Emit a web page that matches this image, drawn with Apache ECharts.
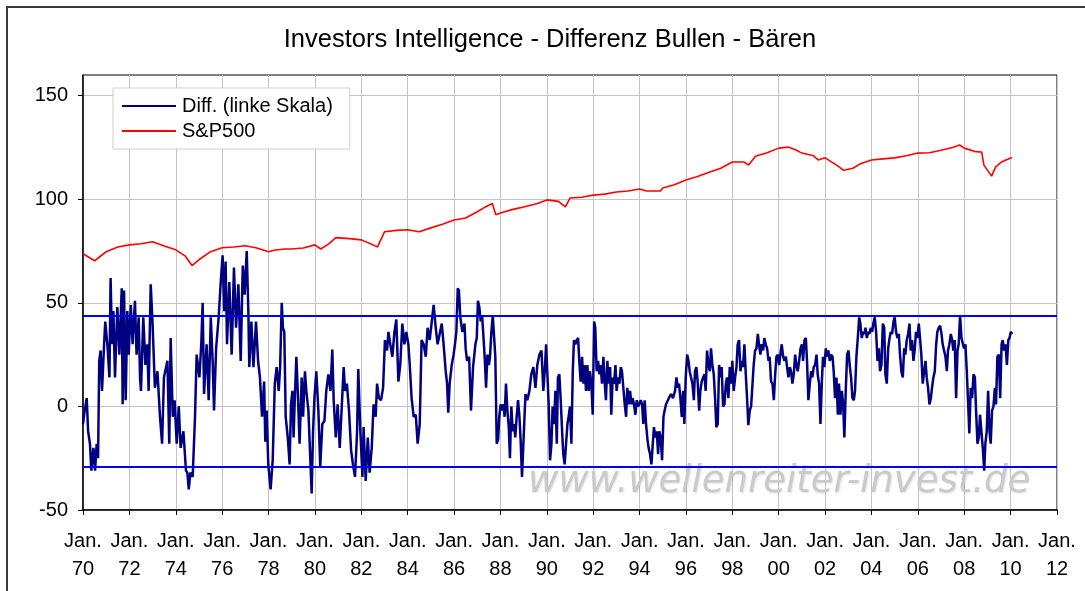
<!DOCTYPE html>
<html>
<head>
<meta charset="utf-8">
<script src="https://cdn.jsdelivr.net/npm/echarts@6/dist/echarts.min.js"></script>
<style>
html,body{margin:0;padding:0;background:#fff;}
#chart{width:1085px;height:591px;}
</style>
</head>
<body>
<div id="chart"></div>
<script>
// ---- data ----
const titleText = 'Investors Intelligence - Differenz Bullen - Bären';
const seriesNames = ['Diff. (linke Skala)', 'S&P500'];
const yTicks = [-50, 0, 50, 100, 150];
const xTickYears = [1970,1972,1974,1976,1978,1980,1982,1984,1986,1988,1990,1992,1994,1996,1998,2000,2002,2004,2006,2008,2010,2012];
const upperBand = 44;
const lowerBand = -29;
const watermarkText = 'www.wellenreiter-invest.de';

// Diff. Bullen - Bären (decimal years, values)
const diffYears = [
1970.00,1970.07,1970.16,1970.22,1970.30,1970.36,1970.45,1970.52,1970.59,1970.65,1970.70,1970.76,1970.82,1970.91,1970.96,
1971.05,1971.14,1971.19,1971.25,1971.31,1971.38,1971.48,1971.57,1971.67,1971.71,1971.77,1971.84,1971.91,1971.97,
1972.06,1972.14,1972.24,1972.31,1972.40,1972.46,1972.50,1972.60,1972.69,1972.77,1972.83,1972.92,
1973.00,1973.10,1973.21,1973.32,1973.41,1973.49,1973.64,1973.72,1973.78,1973.87,1973.95,
1974.04,1974.13,1974.21,1974.33,1974.44,1974.50,1974.56,1974.63,1974.73,1974.83,1974.90,
1975.02,1975.10,1975.16,1975.22,1975.33,1975.42,1975.51,1975.59,1975.65,1975.74,1975.85,1975.94,
1976.02,1976.09,1976.15,1976.21,1976.31,1976.41,1976.51,1976.60,1976.70,1976.80,1976.89,1976.97,
1977.06,1977.13,1977.17,1977.26,1977.35,1977.46,1977.55,1977.63,1977.72,1977.81,1977.86,1977.92,1977.99,
1978.09,1978.18,1978.27,1978.35,1978.44,1978.50,1978.57,1978.62,1978.68,1978.74,1978.83,1978.91,1978.97,
1979.03,1979.08,1979.14,1979.20,1979.26,1979.34,1979.43,1979.49,1979.57,1979.63,1979.72,1979.80,1979.86,1979.92,1979.98,
1980.06,1980.15,1980.23,1980.32,1980.41,1980.49,1980.58,1980.67,1980.75,1980.81,1980.90,1980.98,
1981.07,1981.15,1981.24,1981.30,1981.38,1981.47,1981.56,1981.64,1981.73,1981.82,1981.87,1981.96,
1982.05,1982.10,1982.19,1982.28,1982.36,1982.45,1982.53,1982.62,1982.68,1982.76,1982.85,1982.94,
1983.02,1983.11,1983.17,1983.25,1983.34,1983.43,1983.51,1983.60,1983.68,1983.77,1983.86,1983.94,
1984.03,1984.09,1984.17,1984.26,1984.35,1984.43,1984.52,1984.60,1984.69,1984.78,1984.86,1984.95,
1985.04,1985.12,1985.21,1985.29,1985.38,1985.47,1985.55,1985.64,1985.70,1985.75,1985.81,1985.90,1985.98,
1986.04,1986.10,1986.16,1986.21,1986.27,1986.36,1986.45,1986.50,1986.56,1986.65,1986.73,1986.82,1986.92,1986.98,
1987.03,1987.09,1987.15,1987.21,1987.26,1987.32,1987.38,1987.44,1987.50,1987.55,1987.61,1987.67,1987.73,1987.78,1987.84,1987.90,1987.95,
1988.01,1988.07,1988.13,1988.18,1988.24,1988.30,1988.36,1988.41,1988.47,1988.53,1988.59,1988.64,1988.70,1988.76,1988.82,1988.87,1988.93,1988.99,
1989.08,1989.16,1989.25,1989.33,1989.42,1989.51,1989.59,1989.68,1989.77,1989.85,1989.91,1989.97,
1990.02,1990.08,1990.14,1990.20,1990.25,1990.31,1990.37,1990.43,1990.48,1990.54,1990.60,1990.66,1990.71,1990.77,1990.83,1990.89,1990.94,
1991.00,1991.06,1991.12,1991.17,1991.23,1991.29,1991.35,1991.40,1991.46,1991.52,1991.58,1991.63,1991.69,1991.75,1991.81,1991.86,1991.92,1991.98,
1992.04,1992.09,1992.15,1992.21,1992.27,1992.32,1992.38,1992.44,1992.50,1992.55,1992.61,1992.67,1992.73,1992.78,1992.84,1992.90,1992.96,
1993.01,1993.07,1993.13,1993.19,1993.24,1993.30,1993.36,1993.42,1993.47,1993.53,1993.59,1993.65,1993.70,1993.76,1993.82,1993.88,1993.93,1993.99,
1994.05,1994.11,1994.16,1994.22,1994.28,1994.34,1994.39,1994.45,1994.51,1994.57,1994.62,1994.68,1994.74,1994.80,1994.85,1994.91,1994.97,
1995.03,1995.08,1995.14,1995.20,1995.26,1995.36,1995.44,1995.53,1995.59,1995.65,1995.70,1995.76,1995.82,1995.88,1995.93,1995.99,
1996.05,1996.11,1996.16,1996.22,1996.28,1996.34,1996.39,1996.45,1996.51,1996.57,1996.62,1996.68,1996.74,1996.80,1996.85,1996.91,1996.97,
1997.03,1997.08,1997.14,1997.20,1997.26,1997.31,1997.37,1997.43,1997.49,1997.54,1997.60,1997.66,1997.72,1997.77,1997.83,1997.89,1997.95,
1998.00,1998.06,1998.12,1998.18,1998.23,1998.29,1998.35,1998.41,1998.46,1998.52,1998.58,1998.64,1998.69,1998.75,1998.81,1998.87,1998.92,1998.98,
1999.04,1999.10,1999.15,1999.21,1999.27,1999.33,1999.38,1999.44,1999.50,1999.56,1999.61,1999.67,1999.73,1999.79,1999.84,1999.90,1999.96,
2000.02,2000.07,2000.13,2000.19,2000.25,2000.31,2000.36,2000.42,2000.48,2000.53,2000.59,2000.65,2000.71,2000.76,2000.82,2000.88,2000.94,
2001.00,2001.05,2001.11,2001.17,2001.22,2001.28,2001.34,2001.40,2001.45,2001.51,2001.57,2001.63,2001.68,2001.74,2001.80,2001.86,2001.91,2001.97,
2002.03,2002.09,2002.14,2002.20,2002.26,2002.32,2002.37,2002.43,2002.49,2002.55,2002.60,2002.66,2002.72,2002.78,2002.83,2002.89,2002.95,
2003.01,2003.06,2003.12,2003.18,2003.24,2003.29,2003.35,2003.41,2003.47,2003.52,2003.58,2003.64,2003.70,2003.74,2003.80,2003.86,2003.91,2003.97,
2004.03,2004.08,2004.14,2004.20,2004.26,2004.32,2004.37,2004.43,2004.49,2004.55,2004.60,2004.66,2004.72,2004.78,2004.83,2004.89,2004.95,
2005.00,2005.06,2005.12,2005.18,2005.23,2005.29,2005.35,2005.41,2005.46,2005.52,2005.58,2005.64,2005.69,2005.75,2005.81,2005.87,2005.92,2005.98,
2006.04,2006.10,2006.15,2006.21,2006.27,2006.33,2006.38,2006.44,2006.50,2006.56,2006.61,2006.67,2006.73,2006.79,2006.84,2006.90,2006.96,
2007.02,2007.07,2007.13,2007.19,2007.25,2007.30,2007.36,2007.42,2007.48,2007.53,2007.59,2007.65,2007.71,2007.76,2007.82,2007.88,2007.94,2007.99,
2008.05,2008.11,2008.17,2008.22,2008.28,2008.34,2008.40,2008.46,2008.51,2008.57,2008.63,2008.68,2008.74,2008.80,2008.86,2008.91,2008.97,
2009.03,2009.09,2009.14,2009.20,2009.26,2009.32,2009.37,2009.43,2009.49,2009.55,2009.61,2009.66,2009.72,2009.78,2009.84,2009.90,2009.95,
2010.01,2010.07
];
const diffValues = [
-8.5,-2,4,-12,-18,-31,-20,-31,-18,-25,22,27,7.5,30,41,
30,14,62,30,46,14,48,25,57,1,56,3,46,25,
49,30,51,25,43,14,7.5,43,20,30,7.5,59,
40,9,17,-5,-18,14,22,-18,33,-5,3,
-18,0,-20,-12,-31,-32,-40,-32,-34,-5,25,
14,30,50,6,30,3,43,22,-2,28,43,60,
73,46,70,30,60,25,67,38,59,22,68,54,
75,46,19,41,19,41,22,14,-5,12,-17,-2,-28,
-40,-26,11,19,7.5,19,50,38,36,-5,-15,-28,1,
7.5,-15,6,24,7.5,-18,14,-5,17,7.5,-2,-25,-42,-12,4,
17,-2,-29,-8.5,-7,7.5,15.5,7.5,27.5,3,-15,1,
-20,-2,19,7.5,11,-2,-21,-28,-34,-12,18,-12,
-34,-10,-36,-15,-32,-20,1,-5,11,4,3,9,
32,27,36,30,24,36,42,12,20,40,30,36,
30,20,4,-5,-4,-18,-8.5,32,30,24,38,32,
41,49,38,30,35,40,30,17,11,-3,11,20,25,
30,36,57,56,43,36,40,28,22,24,-2,19,30,33,
51,48,41,44,35,24,9,25,20,24,36,44,33,24,-18,-16,-5,
1,-2,1,-5,11,-2,-10,-25,0,-12,-8.5,-15,-5,3,-5,-16,-34,-18,
6,3,7.5,15.5,19,9,20,25,27,7.5,17,30,
17,1,-26,-18,0,-8.5,7.5,-18,14,15.5,3,-12,-23,-28,-18,-8.5,-5,
0,-18,17,32,30,32,33,22,12,24,11,20,7.5,20,7.5,17,11,-4,
41,38,17,22,15.5,20,11,24,11,3,22,11,19,-4,14,11,20,
7.5,14,11,19,17,9,1,-5,9,1,7.5,1,4,1,-4,3,0,1,
3,1,-8.5,3,-8.5,-16,-20,-23,-28,-18,-10,-15,-12,-23,-12,-15,-26,
-5,-2,1,1,4,6,4,7.5,14,9,11,4,-5,7.5,-8.5,14,
25,22,17,14,11,3,17,19,11,-2,7.5,12,14,15.5,7.5,27,20,
17,28,20,15.5,3,-10,-8.5,20,14,19,0,1,11,14,4,19,11,
22,7.5,14,19,30,32,17,22,19,30,15.5,3,-9,-2,0,11,20,27,
28,35,30,25,30,27,33,30,28,22,24,12,11,3,14,24,25,
20,25,30,24,22,24,19,14,19,17,11,15.5,25,20,17,22,28,
30,22,32,33,22,3,11,17,14,19,20,25,15.5,11,-8.5,12,24,19,
28,24,27,22,25,24,17,4,14,-4,11,-4,7.5,1,-15,7.5,25,
27,20,14,4,3,7.5,24,33,43,40,33,36,35,38,33,36,35,38,
36,40,43,36,22,28,17,20,40,38,15.5,11,28,33,36,35,41,
43,36,33,35,25,17,14,28,25,32,35,40,27,32,22,28,36,33,
40,32,25,11,17,22,14,9,1,4,9,14,17,30,36,38,39,
35,30,27,24,17,27,30,35,32,27,32,4,27,30,44,33,33,28,
30,17,1,-13,9,4,15.5,14,-2,-18,-15,-4,-12,-20,-31,-18,-12,
7.5,-12,-18,-2,0,9,1,24,25,4,30,32,27,30,20,32,33,
36,35
];

// S&P500 (drawn on the same scale)
const spxYears = [
1970.0,1970.25,1970.5,1970.75,1971.0,1971.5,1972.0,1972.5,1973.0,1973.5,1974.0,1974.4,1974.7,1975.0,1975.5,
1976.0,1976.5,1977.0,1977.5,1978.0,1978.3,1978.7,1979.0,1979.5,1980.0,1980.25,1980.6,1980.9,1981.5,1982.0,1982.5,1982.7,
1983.0,1983.5,1984.0,1984.5,1985.0,1985.5,1986.0,1986.5,1987.0,1987.3,1987.65,1987.8,1988.0,1988.5,1989.0,1989.6,
1990.0,1990.5,1990.8,1991.0,1991.5,1992.0,1992.5,1993.0,1993.5,1994.0,1994.3,1994.9,1995.0,1995.5,1996.0,1996.5,
1997.0,1997.5,1998.0,1998.5,1998.7,1999.0,1999.5,2000.0,2000.4,2000.7,2001.0,2001.5,2001.7,2002.0,2002.5,2002.8,
2003.2,2003.5,2004.0,2004.5,2005.0,2005.5,2006.0,2006.5,2007.0,2007.5,2007.8,2008.0,2008.5,2008.75,2008.85,
2009.18,2009.35,2009.6,2009.8,2010.06
];
const spxValues = [
73.7,72,70.3,72.5,74.7,77,78,78.5,79.5,77.5,75.6,72.7,68,70.8,74.7,
76.6,77,77.6,76.5,74.7,75.5,76,76,76.5,78,76,78.5,81.5,81,80.4,78,77,
84.3,85,85.3,84.3,86.2,88,90,91,94,96,98,92.5,93.4,95,96.3,98,
99.7,99,96.3,100.6,101,102,102.5,103.5,104,105,104,104,105.4,107,109.3,111,
113,115,118,118,116.5,120.8,122.5,124.7,125.2,124,122.3,121,119,120,116.5,114,
115,117,119,119.5,120,121,122.3,122.5,123.7,125,126.2,124.7,123,122.8,116.5,
111.2,115.5,118,119,120.2
];

// ---- build series data ----
const diffData = diffYears.map((x, i) => [x, diffValues[i]]);
const spxData = spxYears.map((x, i) => [x, spxValues[i]]);

const chart = echarts.init(document.getElementById('chart'), null, {renderer: 'canvas'});
const FONT = '"Liberation Sans", Arial, sans-serif';

chart.setOption({
  animation: false,
  backgroundColor: '#ffffff',
  textStyle: {fontFamily: FONT, color: '#000'},
  grid: {
    left: 83, right: 28, top: 75, bottom: 81,
    show: true, borderColor: '#000', borderWidth: 1, backgroundColor: '#ffffff'
  },
  legend: {
    orient: 'vertical',
    left: 113, top: 88,
    padding: [8, 17, 8, 9],
    itemGap: 5,
    itemWidth: 54, itemHeight: 2,
    icon: 'rect',
    backgroundColor: '#ffffff',
    borderColor: '#cfcfcf', borderWidth: 1, borderRadius: 0,
    textStyle: {fontFamily: FONT, fontSize: 20, color: '#000', padding: [0,0,0,1]},
    data: seriesNames
  },
  xAxis: {
    type: 'value',
    min: xTickYears[0], max: xTickYears[xTickYears.length - 1], interval: 2,
    axisLine: {show: true, onZero: false, lineStyle: {color: '#000', width: 1.5}},
    axisTick: {show: true, length: 5, inside: false, lineStyle: {color: '#000', width: 1}},
    axisLabel: {
      fontFamily: FONT, fontSize: 20, color: '#000', lineHeight: 28, margin: 17,
      showMinLabel: true, showMaxLabel: true,
      formatter: v => 'Jan.\n' + String(Math.round(v) % 100).padStart(2, '0')
    },
    splitLine: {show: true, lineStyle: {color: '#c4c4c4', width: 1}}
  },
  yAxis: {
    type: 'value',
    min: -50, max: 160, interval: 50,
    axisLine: {show: true, onZero: false, lineStyle: {color: '#000', width: 1.5}},
    axisTick: {show: true, length: 5, inside: false, customValues: yTicks, lineStyle: {color: '#000', width: 1}},
    axisLabel: {
      fontFamily: FONT, fontSize: 20, color: '#000', margin: 15,
      customValues: yTicks,
      formatter: v => String(v)
    },
    splitLine: {show: true, lineStyle: {color: '#c4c4c4', width: 1}}
  },
  graphic: [
    {
      type: 'rect', silent: true, z: 100,
      shape: {x: 7, y: 7, width: 1100, height: 620},
      style: {fill: 'none', stroke: '#3a3a3a', lineWidth: 2}
    },
    {
      type: 'text', silent: true, z: 100,
      style: {
        text: titleText, x: 550, y: 40,
        fill: '#000', font: '25.5px ' + FONT,
        textAlign: 'center', textVerticalAlign: 'middle'
      }
    },
    {
      type: 'text', silent: true, z: 1,
      style: {
        text: watermarkText, x: 528, y: 482,
        fill: '#cacaca', font: 'oblique 37px "DejaVu Sans", sans-serif',
        textAlign: 'left', textVerticalAlign: 'middle',
        textShadowColor: 'rgba(0,0,0,0.12)', textShadowBlur: 2, textShadowOffsetX: 1, textShadowOffsetY: 1
      }
    }
  ],
  series: [
    {
      name: seriesNames[0],
      type: 'line',
      data: diffData,
      showSymbol: false,
      symbol: 'none',
      color: '#000080',
      lineStyle: {color: '#000080', width: 2.5},
      z: 3,
      markLine: {
        silent: true,
        symbol: 'none',
        label: {show: false},
        lineStyle: {color: '#0000ff', width: 2, type: 'solid'},
        data: [{yAxis: upperBand}, {yAxis: lowerBand}]
      }
    },
    {
      name: seriesNames[1],
      type: 'line',
      data: spxData,
      showSymbol: false,
      symbol: 'none',
      color: '#ff0000',
      lineStyle: {color: '#ff0000', width: 1.6},
      z: 3
    }
  ]
});
</script>
</body>
</html>
